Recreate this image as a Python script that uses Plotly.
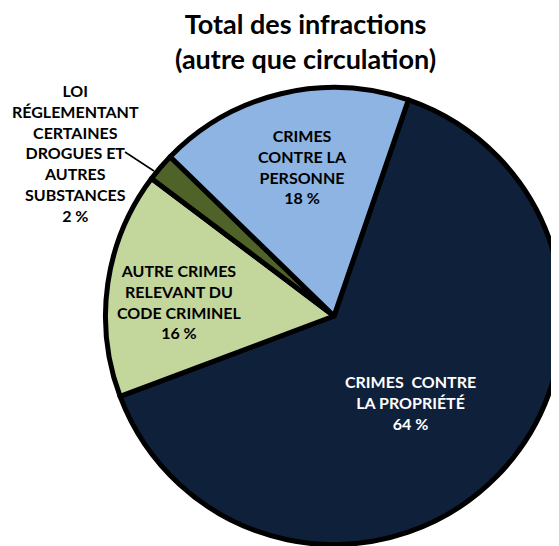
import plotly.graph_objects as go

categories = ["CRIMES  CONTRE<br>LA PROPRIÉTÉ",
              "AUTRE CRIMES<br>RELEVANT DU<br>CODE CRIMINEL",
              "LOI<br>RÉGLEMENTANT<br>CERTAINES<br>DROGUES ET<br>AUTRES<br>SUBSTANCES",
              "CRIMES<br>CONTRE LA<br>PERSONNE"]
values = [64, 16, 2, 18]
colors = ["#0F203A", "#C3D69B", "#4F6228", "#8DB4E2"]
text_colors = ["white", "black", "black", "black"]

W, H = 559, 546
FONT = "Lato"

fig = go.Figure(go.Pie(
    values=values,
    labels=[c.replace("<br>", " ") for c in categories],
    sort=False,
    direction="clockwise",
    rotation=19,
    marker=dict(colors=colors, line=dict(color="black", width=5)),
    textinfo="none",
    hoverinfo="label+percent",
    showlegend=False,
    domain=dict(x=[0.1744, 0.9920], y=[0.0147, 0.8571]),
))

# label positions (pixels from top-left of the figure) for each slice label
label_pos = [(402, 394), (171, 293), (67, 145), (294, 158)]
annotations = []
for cat, v, tc, (px, py) in zip(categories, values, text_colors, label_pos):
    annotations.append(dict(
        x=px / W, y=1 - py / H, xref="paper", yref="paper",
        text=f"{cat}<br>{v} %", showarrow=False,
        font=dict(family=FONT, size=16, color=tc, weight="bold"),
        align="center", xanchor="center", yanchor="middle",
    ))

annotations.append(dict(
    x=297 / W, y=1 - 33 / H, xref="paper", yref="paper",
    text="Total des infractions<br>(autre que circulation)", showarrow=False,
    font=dict(family=FONT, size=27, color="black", weight="bold"),
    align="center", xanchor="center", yanchor="middle",
))

fig.update_layout(
    width=W, height=H,
    margin=dict(l=0, r=0, t=0, b=0),
    paper_bgcolor="white", plot_bgcolor="white",
    annotations=annotations,
    shapes=[dict(type="line", xref="paper", yref="paper",
                 x0=117 / W, y0=1 - 144 / H, x1=146 / W, y1=1 - 163 / H,
                 line=dict(color="black", width=1.5))],
)

fig.write_html("out.html")
